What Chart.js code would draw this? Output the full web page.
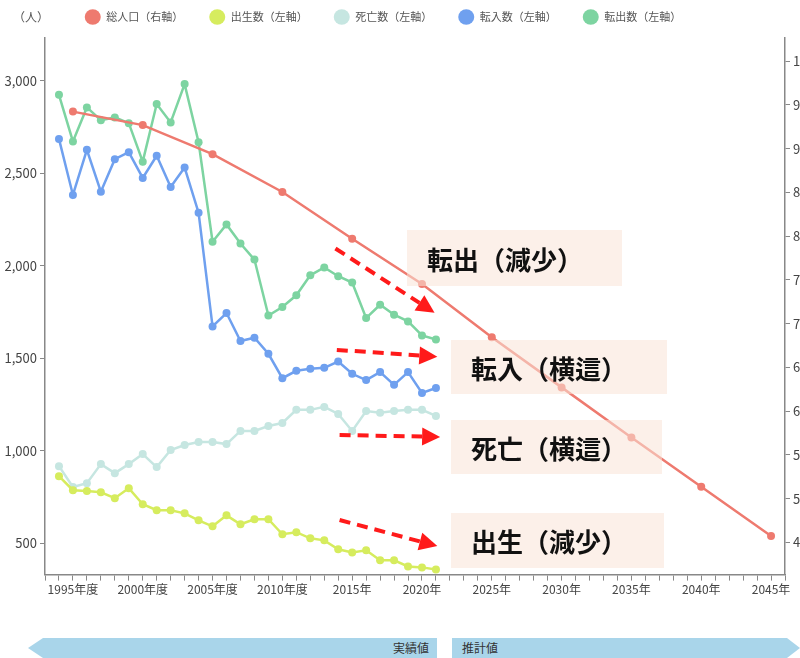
<!DOCTYPE html>
<html lang="ja">
<head>
<meta charset="utf-8">
<script src="https://cdn.jsdelivr.net/npm/chart.js@4.4.1/dist/chart.umd.min.js"></script>
<style>
  html, body { margin: 0; padding: 0; background: #fff; overflow: hidden; }
  #wrap { position: relative; width: 800px; height: 658px; font-family: 'Noto Sans CJK JP', sans-serif; }
  #chart { position: absolute; left: 0; top: 0; }
  .unit { position: absolute; top: 8px; font-size: 12px; color: #555; }
  .note { position: absolute; background: rgba(250, 228, 215, 0.55); font-weight: bold; font-size: 26px;
          color: #111; display: flex; align-items: center; padding-left: 20px; box-sizing: border-box; }
  .band { position: absolute; top: 638px; height: 20px; background: #a9d5ea; font-size: 12px; color: #333;
          line-height: 20px; }
</style>
</head>
<body>
<div id="wrap">
  <canvas id="chart" width="800" height="658"></canvas>
  <div class="unit" style="left:13px">（人）</div>
  <div class="unit" style="left:793px">（</div>

  <div class="note" style="left:407px; top:230px; width:215px; height:56px">転出（減少）</div>
  <div class="note" style="left:451px; top:340px; width:216px; height:54px">転入（横這）</div>
  <div class="note" style="left:451px; top:420px; width:211px; height:54px">死亡（横這）</div>
  <div class="note" style="left:451px; top:513px; width:213px; height:55px">出生（減少）</div>

  <div class="band" style="left:28px; width:409px; text-align:right; padding-right:8px; box-sizing:border-box;
       clip-path: polygon(0 50%, 15px 0, 100% 0, 100% 100%, 15px 100%);">実績値</div>
  <div class="band" style="left:452px; width:348px; padding-left:10px; box-sizing:border-box;
       clip-path: polygon(0 0, calc(100% - 13px) 0, 100% 50%, calc(100% - 13px) 100%, 0 100%);">推計値</div>
</div>
<script>
  // x categories (one per year)
  var years = [];
  for (var y = 1993; y <= 2046; y++) years.push(String(y));

  // axis ticks
  var leftTicks = [500, 1000, 1500, 2000, 2500, 3000];
  var rightTicks = [4500, 5000, 5500, 6000, 6500, 7000, 7500, 8000, 8500, 9000, 9500, 10000];

  // 出生・死亡・転入・転出 : 1994 - 2021
  var flowYears = [1994, 1995, 1996, 1997, 1998, 1999, 2000, 2001, 2002, 2003, 2004, 2005, 2006, 2007,
                   2008, 2009, 2010, 2011, 2012, 2013, 2014, 2015, 2016, 2017, 2018, 2019, 2020, 2021];
  var births = [864, 788, 783, 777, 745, 799, 712, 680, 680, 663, 625, 593, 652, 604,
                631, 631, 550, 561, 528, 517, 469, 452, 463, 409, 409, 376, 371, 360];
  var deaths = [918, 805, 826, 929, 880, 929, 983, 913, 1005, 1032, 1048, 1048, 1037, 1108,
                1108, 1135, 1151, 1222, 1222, 1238, 1200, 1108, 1216, 1206, 1216, 1222, 1222, 1189];
  var moveIn = [2686, 2383, 2627, 2401, 2576, 2614, 2475, 2595, 2426, 2531, 2287, 1673, 1745, 1594,
                1612, 1525, 1393, 1433, 1444, 1449, 1483, 1417, 1383, 1426, 1357, 1426, 1313, 1340];
  var moveOut = [2924, 2672, 2856, 2787, 2802, 2771, 2563, 2874, 2775, 2982, 2668, 2130, 2224, 2121,
                 2034, 1732, 1778, 1841, 1949, 1991, 1944, 1910, 1718, 1790, 1736, 1700, 1624, 1602];

  // 総人口 : census / projection years
  var popYears = [1995, 2000, 2005, 2010, 2015, 2020, 2025, 2030, 2035, 2040, 2045];
  var population = [9423, 9269, 8937, 8505, 7970, 7454, 6846, 6272, 5699, 5137, 4575];

  // dashed red arrows: [fromYear, fromValue, toYear, toValue] on the left axis
  var arrows = [
    [2013.8, 2094, 2020.9, 1747],
    [2013.9, 1546, 2021.1, 1509],
    [2014.1, 1086, 2021.3, 1076],
    [2014.1, 627, 2021.1, 486]
  ];

  function spread(xs, vs) {
    var out = years.map(function () { return null; });
    xs.forEach(function (x, i) { out[years.indexOf(String(x))] = vs[i]; });
    return out;
  }

  function line(label, data, color, axis) {
    return {
      label: label, data: data, yAxisID: axis,
      borderColor: color, backgroundColor: color,
      pointBackgroundColor: color, pointBorderColor: color,
      borderWidth: 2.5, pointRadius: 4, pointBorderWidth: 0, pointHoverRadius: 4,
      spanGaps: true, tension: 0
    };
  }

  var arrowPlugin = {
    id: 'arrows',
    afterDatasetsDraw: function (chart) {
      var ctx = chart.ctx, xs = chart.scales.x, ys = chart.scales.y;
      ctx.save();
      ctx.strokeStyle = '#ff1a1a';
      ctx.fillStyle = '#ff1a1a';
      ctx.lineWidth = 4;
      arrows.forEach(function (a) {
        var x1 = xs.getPixelForValue(a[0] - 1993), y1 = ys.getPixelForValue(a[1]);
        var x2 = xs.getPixelForValue(a[2] - 1993), y2 = ys.getPixelForValue(a[3]);
        var ang = Math.atan2(y2 - y1, x2 - x1), head = 18;
        var bx = x2 - Math.cos(ang) * head, by = y2 - Math.sin(ang) * head;
        ctx.setLineDash([11, 7]);
        ctx.beginPath(); ctx.moveTo(x1, y1); ctx.lineTo(bx, by); ctx.stroke();
        ctx.setLineDash([]);
        ctx.beginPath();
        ctx.moveTo(x2, y2);
        ctx.lineTo(bx + Math.sin(ang) * 9, by - Math.cos(ang) * 9);
        ctx.lineTo(bx - Math.sin(ang) * 9, by + Math.cos(ang) * 9);
        ctx.closePath(); ctx.fill();
      });
      ctx.restore();
    }
  };

  // nudge the legend left/up to where the original sits
  var shiftLegend = {
    id: 'shiftLegend',
    afterLayout: function (chart) {
      var lg = chart.legend;
      lg.left -= 17; lg.right -= 17; lg.top -= 5.5; lg.bottom -= 5.5;
    }
  };

  function fixedTicks(list) {
    return function (s) { s.ticks = list.map(function (v) { return { value: v }; }); };
  }

  Chart.defaults.font.family = "'Noto Sans CJK JP', sans-serif";
  Chart.defaults.font.size = 12;
  Chart.defaults.color = '#444';

  new Chart(document.getElementById('chart'), {
    type: 'line',
    data: {
      labels: years,
      datasets: [
        line('総人口（右軸）', spread(popYears, population), '#ee7a6f', 'y1'),
        line('出生数（左軸）', spread(flowYears, births), '#d6ec5e', 'y'),
        line('死亡数（左軸）', spread(flowYears, deaths), '#c6e6e1', 'y'),
        line('転入数（左軸）', spread(flowYears, moveIn), '#6fa0ef', 'y'),
        line('転出数（左軸）', spread(flowYears, moveOut), '#7dd4a1', 'y')
      ]
    },
    options: {
      responsive: false,
      animation: false,
      locale: 'en-US',
      layout: { padding: { top: -9, left: 0, right: 0, bottom: 59 } },
      plugins: {
        legend: {
          position: 'top',
          labels: { usePointStyle: true, pointStyle: 'circle', boxHeight: 11, pointStyleWidth: 16,
                    padding: 26, color: '#555', font: { size: 11 } }
        },
        tooltip: { enabled: false }
      },
      scales: {
        x: {
          offset: false,
          border: { display: true, color: '#888', width: 1.5 },
          grid: { drawOnChartArea: false, drawTicks: true, tickLength: 6, color: '#888' },
          ticks: {
            autoSkip: false, maxRotation: 0, padding: 2, color: '#444',
            callback: function (v, i) {
              var yr = Number(years[i]);
              if (yr % 5 !== 0) return '';
              return yr <= 2010 ? yr + '年度' : yr + '年';
            }
          }
        },
        y: {
          position: 'left', min: 332, max: 3231,
          border: { display: true, color: '#888', width: 1.5 },
          grid: { drawOnChartArea: false, drawTicks: true, tickLength: 5, color: '#888' },
          ticks: { padding: 3, color: '#444', font: { size: 13 } },
          afterBuildTicks: fixedTicks(leftTicks),
          afterFit: function (s) { s.width = 45; }
        },
        y1: {
          position: 'right', min: 4133, max: 10264,
          border: { display: true, color: '#888', width: 1.5 },
          grid: { drawOnChartArea: false, drawTicks: true, tickLength: 5, color: '#888' },
          ticks: { padding: 3, color: '#444', font: { size: 13 } },
          afterBuildTicks: fixedTicks(rightTicks),
          afterFit: function (s) { s.width = 15; }
        }
      }
    },
    plugins: [arrowPlugin, shiftLegend]
  });
</script>
</body>
</html>
